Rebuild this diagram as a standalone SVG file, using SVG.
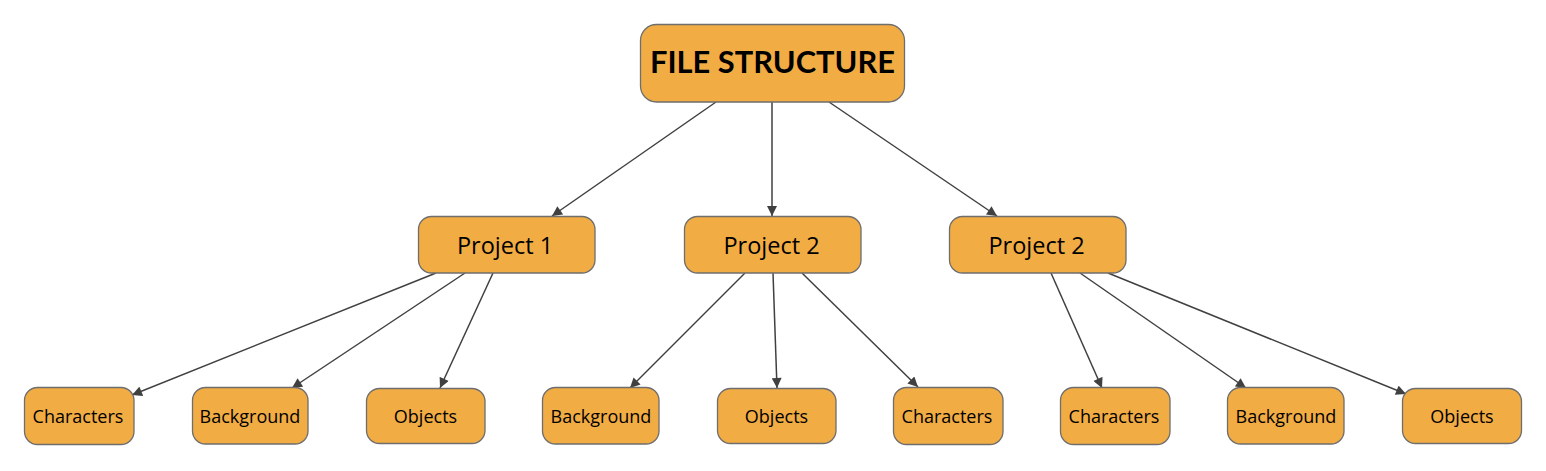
<svg xmlns="http://www.w3.org/2000/svg" width="1546" height="471" viewBox="0 0 1546 471">
<defs>
<style>
.n{fill:#F2AC44;stroke:#6e6e6e;stroke-width:1.3}
.t{font-family:"Open Sans","Liberation Sans",sans-serif;fill:#000;text-anchor:middle;dominant-baseline:central}
.e{stroke:#404040;stroke-width:1.5;fill:none;marker-end:url(#ah)}
</style>
<marker id="ah" viewBox="0 0 10 10" refX="10" refY="5" markerWidth="11" markerHeight="10" markerUnits="userSpaceOnUse" orient="auto"><path d="M0,0 L10,5 L0,10 Z" fill="#404040"/></marker>
</defs>
<rect width="1546" height="471" fill="#fff"/>
<g id="connectors">
<line class="e" x1="716" y1="102" x2="552" y2="216"/>
<line class="e" x1="772" y1="102" x2="772" y2="216"/>
<line class="e" x1="829" y1="102" x2="997" y2="216"/>
<line class="e" x1="436" y1="273" x2="132" y2="395"/>
<line class="e" x1="465" y1="273" x2="292" y2="388"/>
<line class="e" x1="493" y1="273" x2="440" y2="388"/>
<line class="e" x1="745" y1="273" x2="630" y2="388"/>
<line class="e" x1="773" y1="273" x2="777" y2="388"/>
<line class="e" x1="802" y1="273" x2="918" y2="387"/>
<line class="e" x1="1051" y1="273" x2="1102" y2="388"/>
<line class="e" x1="1080" y1="273" x2="1246" y2="388"/>
<line class="e" x1="1108" y1="273" x2="1406" y2="394"/>
</g>
<g id="root"><rect class="n" x="640.5" y="24.5" width="264" height="77.5" rx="16"/><text class="t" x="772.5" y="61" style="font-family:Lato,'DejaVu Sans',sans-serif;font-weight:bold;font-size:30px" textLength="245" lengthAdjust="spacingAndGlyphs">FILE STRUCTURE</text></g>
<g id="p1"><rect class="n" x="418.5" y="216.5" width="176.5" height="56.5" rx="13"/><text class="t" x="505" y="245" font-size="23.5">Project 1</text></g>
<g id="p2"><rect class="n" x="684.5" y="216.5" width="176.5" height="56.5" rx="13"/><text class="t" x="771.5" y="245" font-size="23.5">Project 2</text></g>
<g id="p3"><rect class="n" x="949.5" y="216.5" width="176.5" height="56.5" rx="13"/><text class="t" x="1036.5" y="245" font-size="23.5">Project 2</text></g>
<g id="l1"><rect class="n" x="24.5" y="387.5" width="109.5" height="57" rx="13"/><text class="t" x="78" y="416" font-size="18">Characters</text></g>
<g id="l2"><rect class="n" x="192.5" y="387.5" width="115.5" height="56.5" rx="13"/><text class="t" x="250" y="416" font-size="18">Background</text></g>
<g id="l3"><rect class="n" x="366.5" y="388.5" width="118.5" height="55" rx="13"/><text class="t" x="425.5" y="416" font-size="18">Objects</text></g>
<g id="l4"><rect class="n" x="542.5" y="387.5" width="116.5" height="56.5" rx="13"/><text class="t" x="601" y="416" font-size="18">Background</text></g>
<g id="l5"><rect class="n" x="717.5" y="388.5" width="118.5" height="55" rx="13"/><text class="t" x="776.5" y="416" font-size="18">Objects</text></g>
<g id="l6"><rect class="n" x="893.5" y="387.5" width="109.5" height="57" rx="13"/><text class="t" x="947" y="416" font-size="18">Characters</text></g>
<g id="l7"><rect class="n" x="1060.5" y="387.5" width="109.5" height="57" rx="13"/><text class="t" x="1114" y="416" font-size="18">Characters</text></g>
<g id="l8"><rect class="n" x="1227.5" y="387.5" width="116.5" height="56.5" rx="13"/><text class="t" x="1286" y="416" font-size="18">Background</text></g>
<g id="l9"><rect class="n" x="1402.5" y="388.5" width="119" height="55" rx="13"/><text class="t" x="1462" y="416" font-size="18">Objects</text></g>
</svg>
